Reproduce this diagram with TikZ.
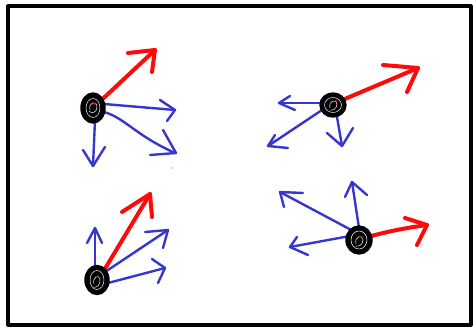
\documentclass[tikz,border=0pt]{standalone}
\definecolor{penred}{RGB}{255,10,10}
\definecolor{penblue}{RGB}{55,55,205}
\begin{document}
\begin{tikzpicture}[x=1pt,y=-1pt,line cap=round,line join=round,
  redl/.style={draw=penred,line width=4pt},
  bluel/.style={draw=penblue,line width=2.4pt},
  blob/.style={fill=black,draw=black,line width=2.4pt},
  swirl/.style={draw=white,line width=0.5pt}]
\useasboundingbox (0,0) rectangle (473,328);
\fill[white] (0,0) rectangle (473,328);
\draw[line width=3.2pt] (8,6) rectangle (471,325);

% ---- group 1 (top left)
\coordinate (b1) at (93,108);
\draw[redl] (b1) -- (155,50);
\draw[redl] (128,53) -- (155,50) -- (152,72);
\draw[bluel] (104,104) -- (175,110);
\draw[bluel] (160,100) -- (175,110) -- (167,121);
\draw[bluel] (104,112) .. controls (125,118) and (135,135) .. (175,153);
\draw[bluel] (163,130) -- (176,153) -- (150,155);
\draw[bluel] (95,120) -- (93,166);
\draw[bluel] (83,150) -- (93,166) -- (105,147);
\fill[penblue] (172,168) circle (0.7);
\draw[blob] (b1) ellipse (11.5 and 14.5);
\draw[swirl] (b1) ellipse (7 and 9.5);
\draw[swirl] (90,110) .. controls (88,102) and (97,100) .. (97,107) .. controls (97,113) and (91,114) .. (89,111);
\fill[penred] (95,104) circle (1.2);

% ---- group 2 (top right)
\coordinate (b2) at (333,105);
\draw[redl] (340,101) -- (418,68);
\draw[redl] (383,65) -- (418,68) -- (407,92);
\draw[bluel] (322,103) -- (279,103);
\draw[bluel] (290,96) -- (279,103) -- (295,110);
\draw[bluel] (322,110) -- (268,146);
\draw[bluel] (275,135) -- (268,146) -- (288,148);
\draw[bluel] (337,117) -- (342,146);
\draw[bluel] (327,133) -- (342,146) -- (353,128);
\draw[blob] (b2) ellipse (12.5 and 11.5);
\draw[swirl] (b2) ellipse (8.5 and 7.5);
\draw[swirl] (330,108) .. controls (328,100) and (337,99) .. (337,104) .. controls (337,109) and (332,111) .. (330,110);
\fill[penred] (336,101) circle (1.2);

% ---- group 3 (bottom left)
\coordinate (b3) at (97,280);
\draw[bluel] (95,268) -- (95,228);
\draw[bluel] (87,243) -- (95,228) -- (102,243);
\draw[bluel] (105,272) -- (168,230);
\draw[bluel] (145,232) -- (168,230) -- (163,248);
\draw[bluel] (108,283) -- (165,268);
\draw[bluel] (152,259) -- (165,268) -- (158,283);
\draw[redl] (100,277) -- (150,194);
\draw[redl] (122,212) -- (150,194) -- (152,217);
\draw[blob] (b3) ellipse (11.5 and 14);
\draw[swirl] (b3) ellipse (7 and 9.5);
\draw[swirl] (94,284) .. controls (92,277) and (99,274) .. (100,279) .. controls (101,285) and (96,288) .. (94,287);

% ---- group 4 (bottom right)
\coordinate (b4) at (359,240);
\draw[redl] (368,237) .. controls (385,232) and (405,228) .. (427,225);
\draw[redl] (405,218) -- (427,225) -- (417,245);
\draw[bluel] (355,232) -- (280,192);
\draw[bluel] (303,193) -- (280,192) -- (284,207);
\draw[bluel] (359,228) -- (352,182);
\draw[bluel] (345,197) -- (352,182) -- (367,195);
\draw[bluel] (350,236) -- (290,247);
\draw[bluel] (297,237) -- (290,247) -- (308,255);
\draw[blob] (b4) ellipse (12.5 and 13.5);
\draw[swirl] (b4) ellipse (8 and 9);
\draw[swirl] (356,244) .. controls (354,236) and (363,234) .. (363,240) .. controls (363,245) and (358,247) .. (356,246);
\fill[penred] (362,238) circle (1);
\end{tikzpicture}
\end{document}
